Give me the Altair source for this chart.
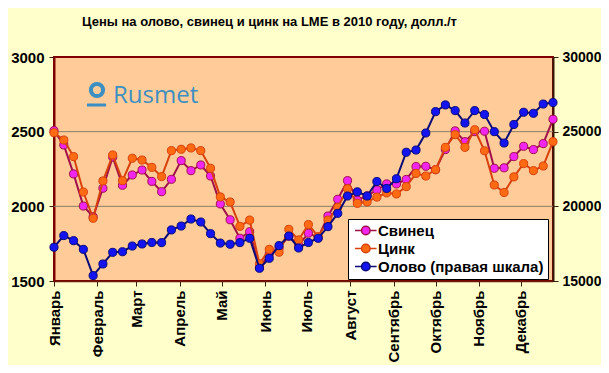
import altair as alt
import pandas as pd

# Weekly observation dates (2010)
dates = pd.date_range("2010-01-01", periods=52, freq="7D").strftime("%Y-%m-%dT00:00:00").tolist()

names = ["Свинец", "Цинк", "Олово (правая шкала)"]
months = ["Январь", "Февраль", "Март", "Апрель", "Май", "Июнь", "Июль",
          "Август", "Сентябрь", "Октябрь", "Ноябрь", "Декабрь"]

lead = [2507, 2411, 2217, 2002, 1930, 2121, 2330, 2141, 2210, 2243,
        2167, 2098, 2181, 2306, 2239, 2277, 2203, 2016, 1910, 1786,
        1830, 1590, 1680, 1720, 1800, 1740, 1820, 1790, 1935, 2047,
        2172, 2042, 2070, 2110, 2150, 2150, 2180, 2266, 2268, 2245,
        2380, 2505, 2433, 2500, 2503, 2255, 2258, 2333, 2402, 2380,
        2420, 2583]

zinc = [2493, 2444, 2333, 2096, 1920, 2170, 2344, 2172, 2322, 2310,
        2261, 2199, 2373, 2382, 2391, 2373, 2255, 2063, 2029, 1866,
        1908, 1615, 1712, 1693, 1846, 1775, 1878, 1797, 1908, 1994,
        2118, 2020, 2030, 2062, 2090, 2083, 2132, 2220, 2203, 2246,
        2395, 2480, 2395, 2513, 2372, 2143, 2093, 2197, 2286, 2239,
        2270, 2433]

tin = [17260, 18040, 17700, 17120, 15360, 16140, 16920, 16960, 17340, 17480,
       17580, 17570, 18420, 18680, 19150, 18950, 18170, 17540, 17460, 17570,
       17860, 15850, 16520, 17370, 18010, 17210, 17580, 17860, 18640, 19530,
       20690, 20970, 20690, 21660, 21200, 21850, 23620, 23770, 24910, 26340,
       26790, 26410, 25580, 26410, 26150, 25000, 24240, 25480, 26300, 26230,
       26850, 26950]

left_ticks = [1500, 2000, 2500, 3000]
left_grid = [2000, 2500]
right_ticks = [15000, 20000, 25000, 30000]

fills = ["#F025F0", "#FF6A12", "#1414F0"]
strokes = ["#A0104A", "#D8400C", "#0A0A78"]

FONT = "Liberation Sans"

df_lead = pd.DataFrame({"date": dates, "value": lead, "series": names[0]})
df_zinc = pd.DataFrame({"date": dates, "value": zinc, "series": names[1]})
df_tin = pd.DataFrame({"date": dates, "value": tin, "series": names[2]})

x_dom = [alt.DateTime(year=2010, month=1, date=1), alt.DateTime(year=2010, month=12, date=24)]
x_scale = alt.Scale(domain=x_dom)
x_axis = alt.Axis(
    values=[alt.DateTime(year=2010, month=m, date=1) for m in range(1, 13)],
    labelExpr="%s[month(datum.value)]" % str(months).replace("'", '"'),
    labelAngle=270, labelAlign="right", labelBaseline="middle",
    labelFont=FONT, labelFontSize=15, labelFontWeight="bold", labelColor="black",
    labelOverlap=False, labelPadding=4, tickSize=5, tickColor="#3a2010",
    domainColor="#6a1a08", domainWidth=1.5, grid=False, title=None,
)
left_scale = alt.Scale(domain=[1500, 3000], nice=False, zero=False)
right_scale = alt.Scale(domain=[15000, 30000], nice=False, zero=False)
left_axis = alt.Axis(values=left_ticks, format="d", grid=False, title=None, labelFont=FONT,
                     labelFontSize=15, labelFontWeight="bold", labelColor="black",
                     labelPadding=5, tickSize=5, tickColor="#3a2010",
                     domainColor="#800000", domainWidth=2)
right_axis = alt.Axis(values=right_ticks, format="d", grid=False, title=None, orient="right",
                      labelFont=FONT, labelFontSize=14, labelFontWeight="bold",
                      labelColor="black", labelPadding=4, tickSize=5,
                      tickColor="#3a2010", domainColor="#3a1808", domainWidth=2)

fill_scale = alt.Scale(domain=names, range=fills)
stroke_scale = alt.Scale(domain=names, range=strokes)

sym_path = "M-1,0L0.45,0M2.35,0L3.8,0M0.45,0A0.95,0.95,0,1,1,2.35,0A0.95,0.95,0,1,1,0.45,0Z"
legend = alt.Legend(
    title=None, orient="none", legendX=294, legendY=162,
    symbolType=sym_path, symbolSize=81, symbolStrokeWidth=1.5, symbolOpacity=1,
    labelFont=FONT, labelFontSize=15, labelFontWeight="bold", labelColor="black",
    labelLimit=400, labelOffset=11, fillColor="white", strokeColor="black",
    padding=4, rowPadding=2,
)


def series(df, color, yscale, yaxis):
    line = alt.Chart(df).mark_line(strokeWidth=2, color=color).encode(
        x=alt.X("date:T", scale=x_scale, axis=x_axis),
        y=alt.Y("value:Q", scale=yscale, axis=yaxis),
    )
    pts = alt.Chart(df).mark_point(shape="circle", filled=True, size=66,
                                   strokeWidth=1, opacity=1).encode(
        x=alt.X("date:T", scale=x_scale, axis=x_axis),
        y=alt.Y("value:Q", scale=yscale, axis=yaxis),
        fill=alt.Fill("series:N", scale=fill_scale, legend=legend),
        stroke=alt.Stroke("series:N", scale=stroke_scale, legend=legend),
    )
    return [line, pts]


grid = alt.Chart(pd.DataFrame({"v": left_grid})).mark_rule(color="#8a7f66", strokeWidth=1).encode(
    y=alt.Y("v:Q", scale=left_scale, axis=left_axis)
)

logo_df = pd.DataFrame({"t": ["Rusmet"]})
logo_text = alt.Chart(logo_df).mark_text(
    font="Open Sans", fontSize=24, color="#3B8FC3", align="left", baseline="alphabetic"
).encode(x=alt.value(59), y=alt.value(46), text="t:N")
logo_ring = alt.Chart(logo_df).mark_point(
    shape="circle", filled=False, size=150, strokeWidth=4, color="#3B8FC3", opacity=1
).encode(x=alt.value(43), y=alt.value(33))
logo_bar = alt.Chart(logo_df).mark_rule(color="#3B8FC3", strokeWidth=3).encode(
    x=alt.value(33), x2=alt.value(52), y=alt.value(48)
)

left_group = alt.layer(
    grid, logo_text, logo_ring, logo_bar,
    *series(df_lead, strokes[0], left_scale, left_axis),
    *series(df_zinc, strokes[1], left_scale, left_axis),
)
right_group = alt.layer(*series(df_tin, strokes[2], right_scale, right_axis))

chart = alt.layer(left_group, right_group).resolve_scale(y="independent").properties(
    width=499, height=224,
    autosize=alt.AutoSizeParams(type="none"),
    padding={"left": 46, "top": 49, "right": 48, "bottom": 84},
    title=alt.TitleParams(
        "Цены на олово, свинец и цинк на LME в 2010 году, долл./т",
        font=FONT, fontSize=13, fontWeight="bold", color="black",
        anchor="start", frame="group", dx=28, dy=3, offset=24,
    ),
).configure(background="#FFFFCC").configure_view(
    fill="#FFCC99", stroke="#800000", strokeWidth=2
)

chart.save("out.html", embed_options={"renderer": "svg", "actions": False})
